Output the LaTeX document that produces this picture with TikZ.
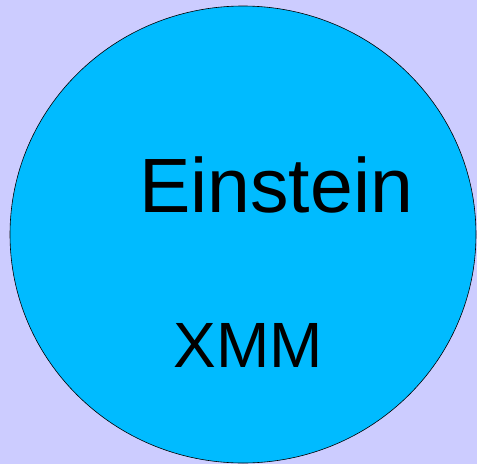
\documentclass[tikz,border=0pt]{standalone}
\usepackage{fontspec}
\setmainfont{Liberation Sans}
\usetikzlibrary{positioning, shapes.geometric}
\definecolor{figbg}{HTML}{CCCCFF}
\definecolor{figdisc}{HTML}{00BBFF}
\definecolor{figink}{HTML}{000000}

\begin{document}
\begin{tikzpicture}[
  x=1pt, y=-1pt,
  line width=0.6pt,
  disc/.style = {draw=figink, fill=figdisc, ellipse, inner sep=0pt,
                 minimum width=466pt, minimum height=457pt, anchor=center},
  big/.style  = {font=\fontsize{77}{80}\selectfont, text=figink,
                 inner sep=0pt, anchor=base},
  mid/.style  = {font=\fontsize{64}{68}\selectfont, text=figink,
                 inner sep=0pt, anchor=base}
]

% fond
\fill[figbg] (0,0) rectangle (477,464);
\useasboundingbox (0,0) rectangle (477,464);

\node[disc] (orb) at (243,234.5) {};

\node[big] (ein) at (276,212) {Einstein};
\node[mid] (xmm) at (248,367) {XMM};

\end{tikzpicture}
\end{document}
